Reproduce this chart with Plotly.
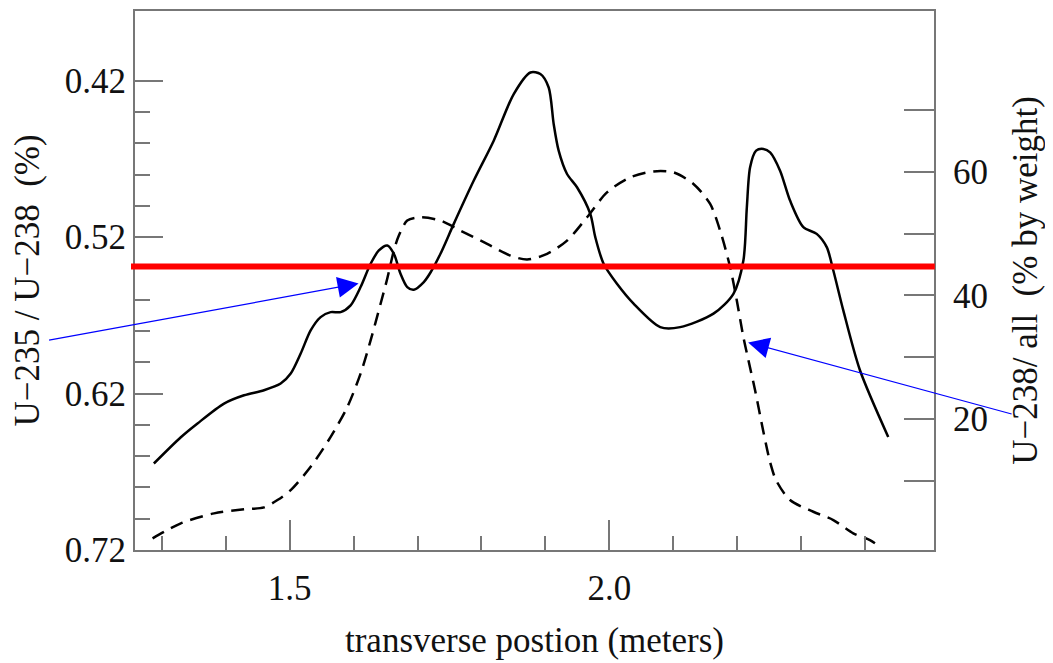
import plotly.graph_objects as go

# U-235 / U-238 ratio (%) vs transverse position (left axis, reversed)
pos_ratio = [1.2875, 1.3297, 1.3558, 1.3973, 1.4286, 1.4598, 1.4859, 1.5016, 1.5172, 1.5328,
             1.5484, 1.5641, 1.5797, 1.5953, 1.6109, 1.6266, 1.6395, 1.6527, 1.6630, 1.6734,
             1.6839, 1.6942, 1.7098, 1.7203, 1.7359, 1.7567, 1.7880, 1.8192, 1.8505, 1.8766,
             1.8922, 1.9052, 1.9130, 1.9208, 1.9339, 1.9495, 1.9703, 1.9781, 1.9911, 2.0120,
             2.0380, 2.0797, 2.1109, 2.1630, 2.1942, 2.2098, 2.2152, 2.2203, 2.2297, 2.2411,
             2.2516, 2.2672, 2.2828, 2.3036, 2.3245, 2.3402, 2.3505, 2.3661, 2.3922, 2.4364]
ratio = [0.6647, 0.6479, 0.6391, 0.6264, 0.6211, 0.6179, 0.6136, 0.6072, 0.5944, 0.5796,
         0.5711, 0.5679, 0.5679, 0.5636, 0.5519, 0.5370, 0.5285, 0.5253, 0.5306, 0.5434,
         0.5519, 0.5536, 0.5487, 0.5426, 0.5306, 0.5115, 0.4838, 0.4583, 0.4285, 0.4147,
         0.4157, 0.4243, 0.4476, 0.4647, 0.4796, 0.4881, 0.5051, 0.5200, 0.5370, 0.5498,
         0.5625, 0.5775, 0.5775, 0.5689, 0.5562, 0.5349, 0.5009, 0.4753, 0.4647, 0.4636,
         0.4658, 0.4775, 0.4966, 0.5136, 0.5179, 0.5264, 0.5413, 0.5668, 0.6051, 0.6477]

# U-238 / all (% by weight) vs transverse position (right axis)
pos_u238 = [1.2855, 1.3036, 1.3297, 1.3817, 1.4286, 1.4598, 1.4808, 1.5016, 1.5328, 1.5641,
            1.5902, 1.6109, 1.6266, 1.6422, 1.6527, 1.6630, 1.6708, 1.6839, 1.7047, 1.7359,
            1.7672, 1.8089, 1.8453, 1.8714, 1.9027, 1.9339, 1.9652, 1.9964, 2.0328, 2.0692,
            2.1005, 2.1317, 2.1578, 2.1734, 2.1891, 2.1995, 2.2098, 2.2177, 2.2281, 2.2406,
            2.2516, 2.2609, 2.2828, 2.3192, 2.3505, 2.3817, 2.4078, 2.4156]
u238 = [0.76, 1.82, 3.18, 4.79, 5.44, 5.76, 6.94, 8.55, 12.31, 17.15,
        21.98, 27.37, 32.74, 38.66, 42.74, 47.26, 49.68, 52.10, 52.63, 52.10,
        50.48, 48.34, 46.45, 45.81, 46.73, 48.87, 52.63, 56.66, 59.08, 60.05,
        59.89, 58.02, 54.79, 50.48, 44.56, 39.19, 33.27, 29.52, 24.68, 18.23,
        13.06, 10.16, 6.94, 5.05, 3.71, 1.56, 0.48, -0.05]

x_major = [1.5, 2.0]
x_major_text = ["1.5", "2.0"]
x_minor = [1.3, 1.4, 1.6, 1.7, 1.8, 1.9, 2.1, 2.2, 2.3, 2.4]
y_major = [0.42, 0.52, 0.62, 0.72]
y_major_text = ["0.42", "0.52", "0.62", "0.72"]
y_minor = [0.44, 0.46, 0.48, 0.50, 0.54, 0.56, 0.58, 0.60, 0.64, 0.66, 0.68, 0.70]
y2_major = [20, 40, 60]
y2_minor = [10, 30, 50, 70]
reference_level = 0.5387

FONT = "Liberation Serif, Times New Roman, serif"
AX = "#777777"

fig = go.Figure()
fig.add_trace(go.Scatter(x=pos_ratio, y=ratio, mode="lines", yaxis="y", showlegend=False,
                         line=dict(color="black", width=2.5, shape="spline", smoothing=0.8)))
fig.add_trace(go.Scatter(x=pos_u238, y=u238, mode="lines", yaxis="y2", showlegend=False,
                         line=dict(color="black", width=2.5, dash="13px,8px", shape="spline", smoothing=0.8)))

common = dict(showline=True, linecolor=AX, linewidth=2, showgrid=False, zeroline=False,
              automargin=False, ticks="inside", tickwidth=2, tickcolor=AX,
              tickfont=dict(family=FONT, size=35, color="#111111"))

fig.update_layout(
    template="none",
    width=1053, height=663,
    margin=dict(l=127, r=127, t=3, b=121),
    paper_bgcolor="white", plot_bgcolor="white",
    font=dict(family=FONT, color="#111111"),
    xaxis=dict(range=[1.258, 2.508], mirror=True, tickmode="array", tickvals=x_major,
               ticktext=x_major_text, ticklen=30, ticklabelstandoff=6,
               minor=dict(tickmode="array", tickvals=x_minor, ticklen=14, tickwidth=2,
                          tickcolor=AX, ticks="inside", showgrid=False),
               title=dict(text="transverse postion (meters)", font=dict(family=FONT, size=35),
                          standoff=20),
               **common),
    yaxis=dict(range=[0.72, 0.3754], tickmode="array", tickvals=y_major, ticktext=y_major_text,
               ticklen=28,
               minor=dict(tickmode="array", tickvals=y_minor, ticklen=15, tickwidth=2,
                          tickcolor=AX, ticks="inside", showgrid=False),
               title=dict(text="U\u2212235 / U\u2212238 \u00a0(%)", font=dict(family=FONT, size=35),
                          standoff=20),
               **common),
    yaxis2=dict(range=[-1.13, 85.97], overlaying="y", side="right", tickmode="array",
                tickvals=y2_major, ticktext=[str(v) for v in y2_major], ticklen=30,
                ticklabelstandoff=10,
                minor=dict(tickmode="array", tickvals=y2_minor, ticklen=30, tickwidth=2,
                           tickcolor=AX, ticks="inside", showgrid=False),
                title=dict(text="U\u2212238/ all \u00a0(% by weight)", font=dict(family=FONT, size=35),
                           standoff=25),
                **common),
    shapes=[dict(type="line", xref="paper", yref="y", x0=-0.005, x1=1.001,
                 y0=reference_level, y1=reference_level,
                 line=dict(color="#ff0000", width=6), layer="above")],
    annotations=[
        dict(x=1.6078, y=0.5496, xref="x", yref="y", ax=-311, ay=57, text="",
             showarrow=True, arrowhead=2, arrowsize=3.5, arrowwidth=1.2, arrowcolor="#0000ff"),
        dict(x=2.2172, y=32.42, xref="x", yref="y2", ax=265, ay=72, text="",
             showarrow=True, arrowhead=2, arrowsize=3.5, arrowwidth=1.2, arrowcolor="#0000ff"),
    ],
)

fig.write_html("out.html")
